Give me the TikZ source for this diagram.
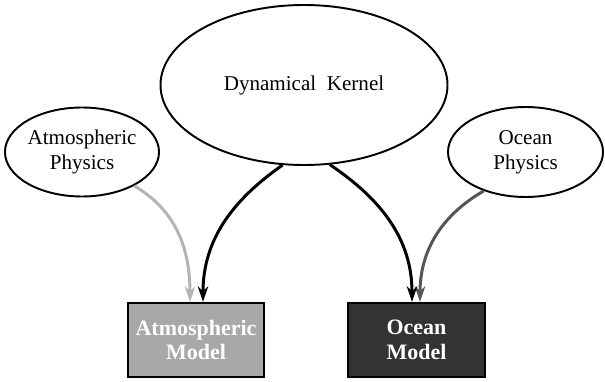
\documentclass[tikz,border=0pt]{standalone}
\usepackage{fontspec}
\setmainfont{Liberation Serif}
\usepackage{tikz}
\usetikzlibrary{shapes.geometric, arrows.meta}
\definecolor{atmgray}{HTML}{A8A8A8}
\definecolor{ocngray}{HTML}{333333}
\definecolor{lightarrow}{HTML}{B4B4B4}
\definecolor{darkarrow}{HTML}{555555}
\tikzset{blob/.style = {draw, ellipse, line width = 1.1pt, inner sep = 0, align = center,
        font = \fontsize{12}{14}\selectfont}}
\tikzset{modelbox/.style = {draw, line width = 1.2pt, inner sep = 0, minimum height = 1.48cm,
        text = white, align = center, font = \fontsize{12.5}{14}\selectfont\bfseries}}
\tikzset{feed/.style = {line width = 1.7pt, -{Stealth[length = 9pt, width = 6pt]}}}

\begin{document}
\begin{tikzpicture}
    \useasboundingbox (0, 0) rectangle (12.1, 7.62);

    \node [blob, minimum width = 5.74cm, minimum height = 3.2cm] (kernel) at (6.08, 5.92)
    {Dynamical~~Kernel};
    \node [blob, minimum width = 2.86cm, minimum height = 1.78cm] (atmphys) at (1.64, 4.58)
    {Atmospheric\\Physics};
    \node [blob, minimum width = 3.1cm, minimum height = 1.8cm] (ocnphys) at (10.51, 4.58)
    {Ocean\\Physics};

    \node [modelbox, fill = atmgray, minimum width = 2.72cm] (atmmodel) at (3.92, 0.82)
    {Atmospheric\\Model};
    \node [modelbox, fill = ocngray, minimum width = 2.74cm] (ocnmodel) at (8.33, 0.82)
    {Ocean\\Model};

    \draw [feed, lightarrow] (atmphys.327) to [out = -30, in = 90] ([xshift = -0.12cm] atmmodel.north);
    \draw [feed, darkarrow] (ocnphys.223) to [out = 210, in = 90] ([xshift = 0.07cm] ocnmodel.north);

    \draw [feed] (kernel.255) to [out = 215, in = 90] ([xshift = 0.14cm] atmmodel.north);
    \draw [feed] (kernel.288) to [out = 326, in = 90] ([xshift = -0.09cm] ocnmodel.north);
\end{tikzpicture}
\end{document}
